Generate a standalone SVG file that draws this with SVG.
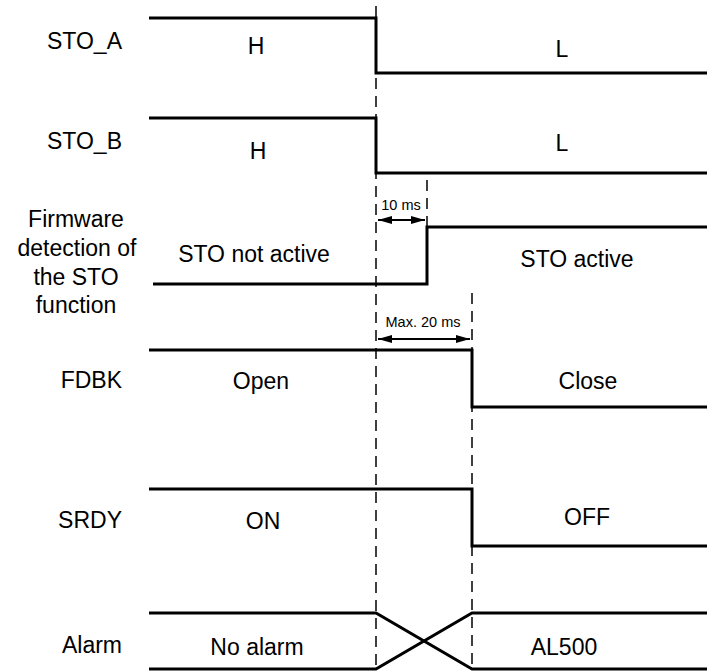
<svg xmlns="http://www.w3.org/2000/svg" width="707" height="671" viewBox="0 0 707 671">
<defs>
<style>
text{font-family:"Liberation Sans",Arial,sans-serif;fill:#000}
.lbl{font-size:23px;text-anchor:end}
.st{font-size:23px;text-anchor:middle}
.sm{font-size:14.5px;text-anchor:middle}
.w{fill:none;stroke:#000;stroke-width:3}
.d{fill:none;stroke:#000;stroke-width:1.5;stroke-dasharray:11,7}
.a{fill:none;stroke:#000;stroke-width:2}
</style>
<marker id="ah" markerUnits="userSpaceOnUse" viewBox="0 0 14 8" refX="14" refY="4" markerWidth="14" markerHeight="8" orient="auto-start-reverse">
<path d="M0,0 L14,4 L0,8 z" fill="#000"/>
</marker>
</defs>
<rect width="707" height="671" fill="#fff"/>
<g id="connectors">
<line class="d" x1="376" y1="6" x2="376" y2="671"/>
<line class="d" x1="427" y1="180" x2="427" y2="227"/>
<line class="d" x1="472" y1="293" x2="472" y2="671"/>
<line class="a" x1="378" y1="220" x2="425" y2="220" marker-start="url(#ah)" marker-end="url(#ah)"/>
<line class="a" x1="378" y1="339" x2="470" y2="339" marker-start="url(#ah)" marker-end="url(#ah)"/>
</g>
<g id="sto_a">
<text class="lbl" x="122" y="49">STO_A</text>
<polyline class="w" points="149,18 376,18 376,73 707,73"/>
<text class="st" x="256" y="54">H</text>
<text class="st" x="562" y="57">L</text>
</g>
<g id="sto_b">
<text class="lbl" x="122" y="149">STO_B</text>
<polyline class="w" points="149,118 376,118 376,173 707,173"/>
<text class="st" x="258" y="159">H</text>
<text class="st" x="562" y="151">L</text>
</g>
<g id="firmware">
<text class="st" x="76" y="227">Firmware</text>
<text class="st" x="77" y="256">detection of</text>
<text class="st" x="76" y="284.5">the STO</text>
<text class="st" x="76" y="313">function</text>
<polyline class="w" points="153,284 427,284 427,227 707,227"/>
<text class="st" x="254" y="262">STO not active</text>
<text class="st" x="577" y="267">STO active</text>
<text class="sm" x="401" y="210">10 ms</text>
</g>
<g id="fdbk">
<text class="lbl" x="122" y="388">FDBK</text>
<polyline class="w" points="149,350 472,350 472,407 707,407"/>
<text class="st" x="261" y="389">Open</text>
<text class="st" x="588" y="389">Close</text>
<text class="sm" x="423" y="327">Max. 20 ms</text>
</g>
<g id="srdy">
<text class="lbl" x="122" y="528">SRDY</text>
<polyline class="w" points="149,489 472,489 472,546 707,546"/>
<text class="st" x="263" y="529">ON</text>
<text class="st" x="587" y="525">OFF</text>
</g>
<g id="alarm">
<text class="lbl" x="122" y="653">Alarm</text>
<polyline class="w" points="149,613 376,613 472,669 707,669"/>
<polyline class="w" points="149,669 376,669 472,613 707,613"/>
<text class="st" x="257" y="655">No alarm</text>
<text class="st" x="564" y="655">AL500</text>
</g>
</svg>
